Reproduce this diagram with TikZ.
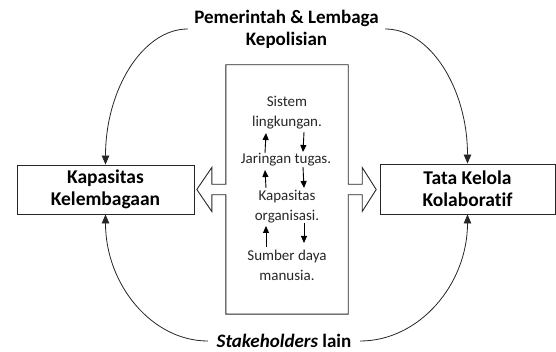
\documentclass[tikz,border=0pt]{standalone}
\usepackage{fontspec}
\setmainfont{Carlito}[Ligatures=NoCommon]
\usetikzlibrary{calc,arrows.meta}
\begin{document}
\begin{tikzpicture}[x=1pt,y=1pt,
  boxlab/.style={draw=black!85,line width=0.9pt,align=center,font=\fontsize{19.5}{22}\selectfont\bfseries,inner sep=0pt},
  inner/.style={align=center,font=\fontsize{15}{20}\selectfont,inner sep=0pt,text=black!85},
  arc/.style={draw=black!85,line width=0.8pt,-{Triangle[length=9pt,width=7.5pt]}},
  small/.style={draw=black,line width=0.9pt,-{Triangle[length=7pt,width=6pt]}}]
\useasboundingbox (0,0) rectangle (556,352);
% boxes
\node[boxlab,minimum width=177pt,minimum height=49pt] (lb) at (105.5,162.5) {Kapasitas\\Kelembagaan};
\node[boxlab,minimum width=175pt,minimum height=50pt] (rb) at (467.5,163) {Tata Kelola\\Kolaboratif};
\node[minimum width=122pt,minimum height=249pt,inner sep=0pt] (mid) at (287,162.5) {};
% combined outline of central box with block arrows
\draw[black!85,line width=0.9pt,line join=miter]
  (mid.north west) -- (mid.north east) -- ($(mid.east)+(0,5.25)$) -- ++(14,0) -- ++(0,16.75)
  -- ($(mid.east)+(28,0)$) -- ($(mid.east)+(14,-22)$) -- ++(0,16.75) -- ($(mid.east)+(0,-5.25)$)
  -- (mid.south east) -- (mid.south west) -- ($(mid.west)+(0,-5.25)$) -- ++(-14,0) -- ++(0,-16.75)
  -- ($(mid.west)+(-29,0)$) -- ($(mid.west)+(-14,22)$) -- ++(0,-16.75) -- ($(mid.west)+(0,5.25)$)
  -- cycle;
% labels
\node[align=center,font=\fontsize{19}{22}\selectfont\bfseries,inner sep=0pt,minimum width=197pt] (title) at (286.5,323) {Pemerintah \& Lembaga\\Kepolisian};
\node[font=\fontsize{19}{22}\selectfont\bfseries,inner sep=0pt,minimum width=152pt] (stake) at (284,11) {\textit{Stakeholders} lain};
% inner texts
\node[inner] (t1) at (287,239) {Sistem\\lingkungan.};
\node[inner] (t2) at (286,192) {Jaringan tugas.};
\node[inner] (t3) at (287,145.5) {Kapasitas\\organisasi.};
\node[inner] (t4) at (287,87) {Sumber daya\\manusia.};
% small arrows
\draw[small] ($(t2.center)+(-21,7)$) -- ($(t1.center)+(-21,-20)$);
\draw[small] ($(t1.center)+(17,-19)$) -- ($(t2.center)+(17,8)$);
\draw[small] ($(t3.center)+(-21,18.5)$) -- ($(t2.center)+(-21,-10)$);
\draw[small] ($(t2.center)+(17,-7)$) -- ($(t3.center)+(17,18.5)$);
\draw[small] ($(t4.center)+(-21,18)$) -- ($(t3.center)+(-21,-19.5)$);
\draw[small] ($(t3.center)+(17,-16.5)$) -- ($(t4.center)+(17,22)$);
% arcs
\draw[arc] (title.west) .. controls +(-45,0) and +(0,75) .. (lb.north);
\draw[arc] (title.east) .. controls +(45,0) and +(0,75) .. (rb.north);
\draw[arc] (stake.west) .. controls +(-56,0) and +(0,-70) .. (lb.south);
\draw[arc] (stake.east) .. controls +(59,0) and +(0,-70) .. (rb.south);
\end{tikzpicture}
\end{document}
